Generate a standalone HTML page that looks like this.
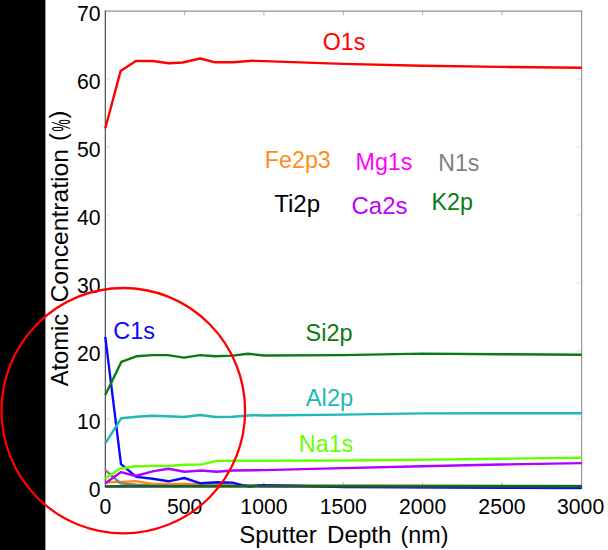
<!DOCTYPE html>
<html><head><meta charset="utf-8">
<style>
html,body{margin:0;padding:0;background:#fff;}
body{width:608px;height:550px;overflow:hidden;position:relative;font-family:"Liberation Sans",sans-serif;}
svg{position:absolute;left:0;top:0;display:block;}
text{font-family:"Liberation Sans",sans-serif;}
</style></head><body>
<svg width="608" height="550" viewBox="0 0 608 550">
<rect x="0" y="0" width="608" height="550" fill="#fff"/>
<rect x="0" y="0" width="45.4" height="550" fill="#000"/>
<path d="M105.3 11.1H581.7" stroke="#787878" stroke-width="1" fill="none"/>
<path d="M581.7 10.6V487" stroke="#808080" stroke-width="1" fill="none"/>
<path d="M105.3 10.6V487.2" stroke="#3c3c3c" stroke-width="1.1" fill="none"/>
<path d="M104.8 486.8H582.2" stroke="#2a2a2a" stroke-width="1" fill="none"/>
<g stroke="#cfcfcf" stroke-width="0.8" fill="none" transform="translate(0,0.4)">
<path d="M105.8 78.5h4M105.8 146.5h4M105.8 214.5h4M105.8 282.5h4M105.8 350.5h4M105.8 418.5h4"/>
<path d="M580.8 78.5h-4M580.8 146.5h-4M580.8 214.5h-4M580.8 282.5h-4M580.8 350.5h-4M580.8 418.5h-4"/>
<path stroke="#8c8c8c" d="M184.6 486v-4M263.9 486v-4M343.3 486v-4M422.6 486v-4M501.9 486v-4"/>
<path stroke="#9a9a9a" d="M184.6 11v4M263.9 11v4M343.3 11v4M422.6 11v4M501.9 11v4"/>
</g>
<text x="88.8" y="497.4" font-size="22.0" textLength="11.8" lengthAdjust="spacingAndGlyphs" fill="#000">0</text>
<text x="77.0" y="429.4" font-size="22.0" textLength="23.6" lengthAdjust="spacingAndGlyphs" fill="#000">10</text>
<text x="77.0" y="361.4" font-size="22.0" textLength="23.6" lengthAdjust="spacingAndGlyphs" fill="#000">20</text>
<text x="77.0" y="293.4" font-size="22.0" textLength="23.6" lengthAdjust="spacingAndGlyphs" fill="#000">30</text>
<text x="77.0" y="225.4" font-size="22.0" textLength="23.6" lengthAdjust="spacingAndGlyphs" fill="#000">40</text>
<text x="77.0" y="157.4" font-size="22.0" textLength="23.6" lengthAdjust="spacingAndGlyphs" fill="#000">50</text>
<text x="77.0" y="89.4" font-size="22.0" textLength="23.6" lengthAdjust="spacingAndGlyphs" fill="#000">60</text>
<text x="77.0" y="21.4" font-size="22.0" textLength="23.6" lengthAdjust="spacingAndGlyphs" fill="#000">70</text>
<text x="99.4" y="513.8" font-size="22.0" textLength="11.8" lengthAdjust="spacingAndGlyphs" fill="#000">0</text>
<text x="166.93" y="513.8" font-size="22.0" textLength="35.4" lengthAdjust="spacingAndGlyphs" fill="#000">500</text>
<text x="240.37" y="513.8" font-size="22.0" textLength="47.2" lengthAdjust="spacingAndGlyphs" fill="#000">1000</text>
<text x="319.7" y="513.8" font-size="22.0" textLength="47.2" lengthAdjust="spacingAndGlyphs" fill="#000">1500</text>
<text x="399.03" y="513.8" font-size="22.0" textLength="47.2" lengthAdjust="spacingAndGlyphs" fill="#000">2000</text>
<text x="478.37" y="513.8" font-size="22.0" textLength="47.2" lengthAdjust="spacingAndGlyphs" fill="#000">2500</text>
<text x="557.0" y="513.8" font-size="22.0" textLength="47.2" lengthAdjust="spacingAndGlyphs" fill="#000">3000</text>
<text x="239.2" y="542.6" font-size="23.6" textLength="77.5" lengthAdjust="spacingAndGlyphs" fill="#000">Sputter</text>
<text x="327.0" y="542.6" font-size="23.6" textLength="64.5" lengthAdjust="spacingAndGlyphs" fill="#000">Depth</text>
<text x="400.5" y="542.6" font-size="23.6" textLength="48" lengthAdjust="spacingAndGlyphs" fill="#000">(nm)</text>
<g transform="translate(68.3,0) rotate(-90)">
<text x="-386.3" y="0" font-size="23.6" textLength="72.5" lengthAdjust="spacingAndGlyphs" fill="#000">Atomic</text>
<text x="-302.6" y="0" font-size="23.6" textLength="153.5" lengthAdjust="spacingAndGlyphs" fill="#000">Concentration</text>
<text x="-140.9" y="-2" font-size="23.6" fill="#000">(</text>
<text x="-131.5" y="1.5" font-size="25.5" textLength="12.2" lengthAdjust="spacingAndGlyphs" fill="#000">%</text>
<text x="-118.6" y="-2" font-size="23.6" fill="#000">)</text>
</g>
<g fill="none" stroke-width="2.4" stroke-linejoin="round" stroke-linecap="butt" transform="translate(0,0.5)">
<polyline stroke="#ff00ff" points="105.3,486 240,485.6 250,484.7 262,485.8 581.8,487.2"/>
<polyline stroke="#ff8c1a" points="105.3,482 120.5,481.4 135.5,480.6 152.6,483.4 184,483.4 223,483.8 250,485 581,485.6"/>
<polyline stroke="#808080" points="105.3,469.6 120.5,482.8 136.3,484.2 152.6,485 581,485.5"/>
<polyline stroke="#0a0aff" points="105.3,336.3 121,463.7 136.3,476.4 152.6,478.2 168.4,480.8 184.3,477.5 200.5,482.8 217,481.8 232.6,482.1 242,484.7 250,486 263,484.6 300,485.4 343,486.6 581.8,487.5"/>
<polyline stroke="#b000ff" points="105.3,482.8 121,471.6 135.5,475.5 152.6,470.9 168.4,468.3 184.6,471.3 201,470 216.8,471.3 232.6,470 263.9,469.6 343,467.6 422,465.7 501,464 581.8,462.6"/>
<polyline stroke="#66ff00" points="105.3,478.2 119.7,468.3 135.5,465.7 152.6,465.5 168.4,465.5 184.6,464.3 201,464.1 216.8,460.4 232.6,460.2 263.9,460.2 343,460 422,459.3 501,458.2 581.8,457.3"/>
<polyline stroke="#1fb8b8" points="105.3,442.8 121.3,417.7 136.5,416.2 152.6,415.2 168,415.8 184,416.5 200.2,414.5 215.3,416.5 232.8,416.3 252,414.7 263.9,415 343,414.1 422,412.9 501,412.8 581.8,412.8"/>
<polyline stroke="#0a7a14" points="105.3,394.4 121.3,361.4 136.3,355.8 152.6,354.6 167.7,354.6 184,357.1 200.2,354.6 215.3,355.8 232.8,355.1 247.9,353.3 263.9,355 343,354.6 422,353.1 501,353.7 581.8,354.3"/>
<polyline stroke="#0a6e14" stroke-width="2.4" points="105.3,485.8 581.8,485.8"/>
<polyline stroke="#ff0000" points="105.3,127.7 120.6,70.6 135.8,60.5 152.6,60.5 168.9,62.8 182.7,62 200.2,58 215.3,61.8 232.8,61.8 251.9,60.3 263.9,60.6 343,63.4 422,65.2 501,66.4 581.8,67.2"/>
</g>
<ellipse cx="123.3" cy="410.7" rx="121.8" ry="122.7" fill="none" stroke="#ff0000" stroke-width="2.3"/>
<text x="322.8" y="50.4" font-size="24.4" textLength="42.6" lengthAdjust="spacingAndGlyphs" fill="#ff0000">O1s</text>
<text x="264.8" y="167.7" font-size="24.4" textLength="66" lengthAdjust="spacingAndGlyphs" fill="#ff8c1a">Fe2p3</text>
<text x="355.5" y="169.9" font-size="24.4" textLength="57" lengthAdjust="spacingAndGlyphs" fill="#ff00ff">Mg1s</text>
<text x="438.3" y="171.0" font-size="24.4" textLength="41" lengthAdjust="spacingAndGlyphs" fill="#808080">N1s</text>
<text x="274.2" y="212.2" font-size="24.4" textLength="46" lengthAdjust="spacingAndGlyphs" fill="#000">Ti2p</text>
<text x="351.5" y="214.3" font-size="24.4" textLength="56" lengthAdjust="spacingAndGlyphs" fill="#c000ff">Ca2s</text>
<text x="431.5" y="210.2" font-size="24.4" textLength="41.5" lengthAdjust="spacingAndGlyphs" fill="#0a7a14">K2p</text>
<text x="113.3" y="339.2" font-size="24.4" textLength="41.6" lengthAdjust="spacingAndGlyphs" fill="#0a0aff">C1s</text>
<text x="305.5" y="340.6" font-size="24.4" textLength="47" lengthAdjust="spacingAndGlyphs" fill="#0a7a14">Si2p</text>
<text x="305.8" y="405.9" font-size="24.4" textLength="47.5" lengthAdjust="spacingAndGlyphs" fill="#1fb8b8">Al2p</text>
<text x="298.8" y="451.9" font-size="24.4" textLength="54.5" lengthAdjust="spacingAndGlyphs" fill="#66ff00">Na1s</text>
</svg>
</body></html>
